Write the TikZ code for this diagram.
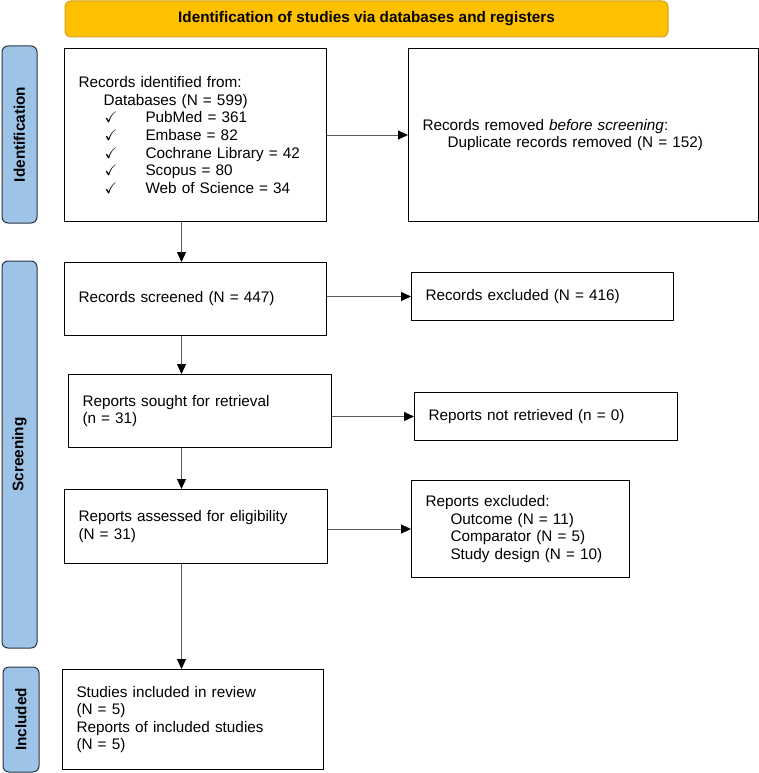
\documentclass[tikz,border=0pt]{standalone}
\usepackage{fontspec}
\setmainfont{Liberation Sans}
\usepackage{amssymb}
\usetikzlibrary{arrows.meta}

\definecolor{bannerorange}{HTML}{FFC000}
\definecolor{bannerline}{HTML}{D4A017}
\definecolor{phaseblue}{HTML}{9DC3E6}
\definecolor{phaseline}{HTML}{2B3440}
\definecolor{flowgray}{HTML}{5A5A5A}

\begin{document}
\begin{tikzpicture}[x=1pt, y=-1pt,
  font=\fontsize{15.3}{17.6}\selectfont,
  box/.style={draw=black, line width=1pt, inner xsep=14pt, inner ysep=0pt, align=left, anchor=north west},
  phase/.style={draw=phaseline, fill=phaseblue, line width=1pt, rounded corners=6pt, rotate=90, inner sep=0pt, font=\fontsize{15.3}{17.6}\selectfont\bfseries},
  flow/.style={draw=flowgray, line width=0.9pt, -{Triangle[length=10pt, width=9pt, black]}}]
\def\subindent{\hspace*{25pt}}
\def\checkitem{\hspace*{26pt}\makebox[41pt][l]{$\checkmark$}}

\useasboundingbox (0,0) rectangle (759,773);

% BANNER
\node[draw=bannerline, fill=bannerorange, line width=1pt, rounded corners=6pt, minimum width=603pt, minimum height=36pt, inner sep=0pt, font=\fontsize{15.3}{17.6}\selectfont\bfseries] (banner) at (366.5,19) {Identification of studies via databases and registers};

% PHASE LABELS
\node[phase, minimum width=177pt, minimum height=35pt] (identlab) at (19.5,134.5) {Identification};
\node[phase, minimum width=387pt, minimum height=35pt] (screenlab) at (19.5,454.5) {Screening};
\node[phase, minimum width=105pt, minimum height=36pt] (incllab) at (21,719.5) {Included};

% IDENTIFICATION
\node[box, text width=234pt, minimum height=173pt] (identified) at (64,48) {Records identified from:\\
\subindent Databases (N = 599)\\
\checkitem PubMed = 361\\
\checkitem Embase = 82\\
\checkitem Cochrane Library = 42\\
\checkitem Scopus = 80\\
\checkitem Web of Science = 34};
\node[box, text width=322pt, minimum height=173pt] (removed) at (408,48) {Records removed \textit{before screening}:\\
\subindent Duplicate records removed (N = 152)};

% SCREENING
\node[box, text width=234pt, minimum height=73pt] (screened) at (64,262) {Records screened (N = 447)};
\node[box, text width=234pt, minimum height=48pt] (excluded) at (411,272) {Records excluded (N = 416)};
\node[box, text width=235pt, minimum height=73pt] (sought) at (68,374) {Reports sought for retrieval\\(n = 31)};
\node[box, text width=235pt, minimum height=48pt] (notretrieved) at (414,392) {Reports not retrieved (n = 0)};
\node[box, text width=235pt, minimum height=74pt] (assessed) at (64,489) {Reports assessed for eligibility\\(N = 31)};
\node[box, text width=190pt, minimum height=97pt] (repexcluded) at (411,480) {Reports excluded:\\
\subindent Outcome (N = 11)\\
\subindent Comparator (N = 5)\\
\subindent Study design (N = 10)};

% INCLUDED
\node[box, text width=233pt, minimum height=100pt] (included) at (62,669) {Studies included in review\\(N = 5)\\Reports of included studies\\(N = 5)};

% ARROWS
\coordinate (spine) at (181.5,0);
\draw[flow] (identified.south -| spine) -- (screened.north -| spine);
\draw[flow] (screened.south -| spine) -- (sought.north -| spine);
\draw[flow] (sought.south -| spine) -- (assessed.north -| spine);
\draw[flow] (assessed.south -| spine) -- (included.north -| spine);

\draw[flow] (identified.east) -- (identified.east -| removed.west);
\draw[flow] (excluded.west -| screened.east) -- (excluded.west);
\draw[flow] (notretrieved.west -| sought.east) -- (notretrieved.west);
\draw[flow] (repexcluded.west -| assessed.east) -- (repexcluded.west);
\end{tikzpicture}
\end{document}
